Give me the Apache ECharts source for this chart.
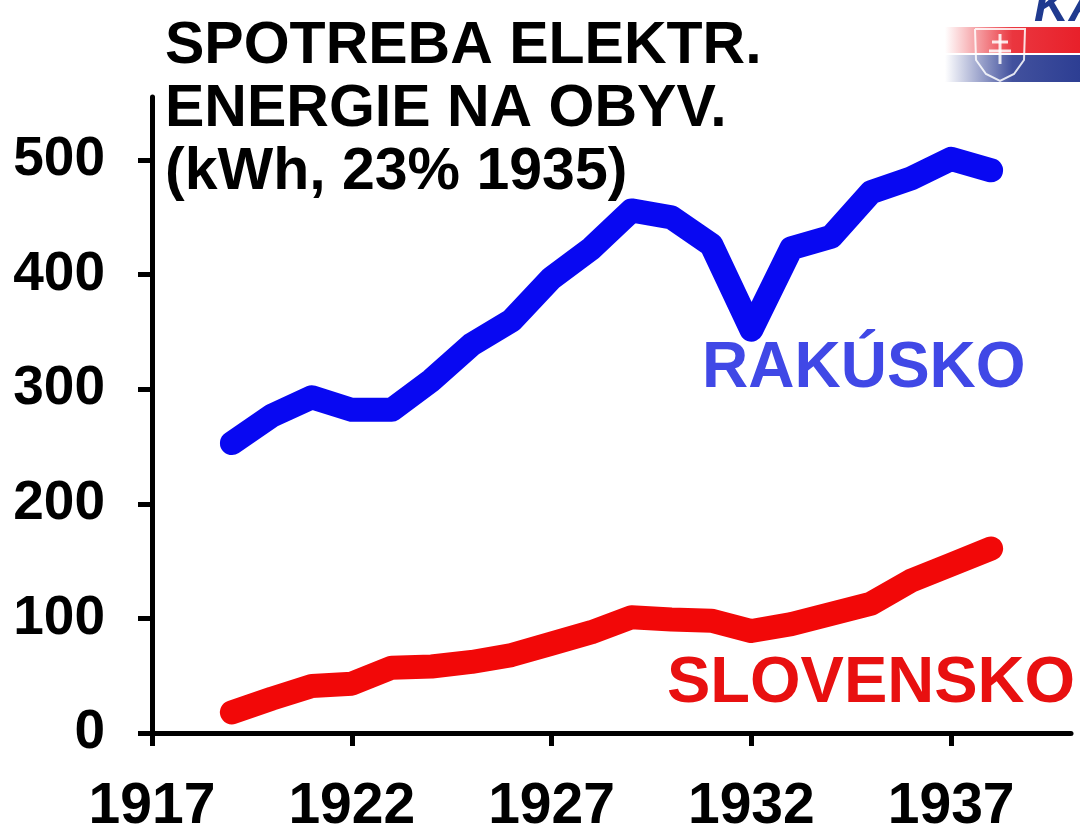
<!DOCTYPE html>
<html>
<head>
<meta charset="utf-8">
<title>Spotreba elektr. energie</title>
<script src="https://cdn.jsdelivr.net/npm/echarts@6/dist/echarts.min.js"></script>
<style>
  html, body { margin: 0; padding: 0; background: #fff; }
  #chart { width: 1080px; height: 833px; }
</style>
</head>
<body>
<div id="chart"></div>
<script>
// roky a hodnoty (kWh na obyvatela), odcitane z grafu
const years = [1919, 1920, 1921, 1922, 1923, 1924, 1925, 1926, 1927, 1928,
               1929, 1930, 1931, 1932, 1933, 1934, 1935, 1936, 1937, 1938]
const rakusko = [253, 277, 293, 282, 282, 308, 339, 360, 397, 423,
                 456, 450, 426, 352, 423, 433, 472, 484, 501, 491]
const slovensko = [18, 30, 41, 43, 57, 58, 62, 68, 78, 88,
                   101, 99, 98, 89, 95, 104, 113, 133, 147, 161]
const xTicks = [1917, 1922, 1927, 1932, 1937]
const yTicks = [0, 100, 200, 300, 400, 500]

const FONT = "'Liberation Sans', Arial, Helvetica, sans-serif"
const chart = echarts.init(document.getElementById('chart'))

const option = {
  backgroundColor: '#fff',
  animation: false,
  title: {
    text: 'SPOTREBA ELEKTR.\nENERGIE NA OBYV.\n(kWh, 23% 1935)',
    left: 160,
    top: 10,
    textStyle: {
      fontFamily: FONT,
      fontWeight: 'bold',
      fontSize: 59,
      lineHeight: 63,
      color: '#000'
    }
  },
  grid: { left: 152, right: 9, top: 97, bottom: 100, outerBoundsMode: 'none' },
  xAxis: {
    type: 'value',
    min: 1917,
    max: 1940,
    splitLine: { show: false },
    axisLine: { lineStyle: { color: '#000', width: 5, cap: 'round' } },
    axisTick: { customValues: xTicks, length: 13, lineStyle: { color: '#000', width: 5 } },
    axisLabel: {
      customValues: xTicks,
      formatter: v => String(v),
      margin: 46,
      fontFamily: FONT,
      fontWeight: 'bold',
      fontSize: 57,
      color: '#000'
    }
  },
  yAxis: {
    type: 'value',
    min: 0,
    max: 555,
    splitLine: { show: false },
    axisLine: { show: true, lineStyle: { color: '#000', width: 5, cap: 'round' } },
    axisTick: { show: true, customValues: yTicks, length: 14, lineStyle: { color: '#000', width: 5 } },
    axisLabel: {
      customValues: yTicks,
      formatter: v => String(v),
      margin: 47,
      fontFamily: FONT,
      fontWeight: 'bold',
      fontSize: 55,
      color: '#000'
    }
  },
  series: [
    {
      name: 'RAKÚSKO',
      type: 'line',
      data: years.map((y, i) => [y, rakusko[i]]),
      showSymbol: false,
      lineStyle: { color: '#0808F2', width: 24, cap: 'round', join: 'round' }
    },
    {
      name: 'SLOVENSKO',
      type: 'line',
      data: years.map((y, i) => [y, slovensko[i]]),
      showSymbol: false,
      lineStyle: { color: '#F20808', width: 24, cap: 'round', join: 'round' }
    }
  ],
  graphic: [
    // popisy radov
    {
      type: 'text', z: 10,
      style: { x: 702, y: 369, text: 'RAKÚSKO', fill: '#4048E6', textVerticalAlign: 'middle',
        font: 'bold 64px ' + FONT }
    },
    {
      type: 'text', z: 10,
      style: { x: 667, y: 684, text: 'SLOVENSKO', fill: '#E81010', textVerticalAlign: 'middle',
        font: 'bold 65px ' + FONT }
    },
    // logo vpravo hore
    {
      type: 'rect', shape: { x: 945, y: 27, width: 135, height: 26 },
      style: { fill: new echarts.graphic.LinearGradient(0, 0, 1, 0, [
        { offset: 0, color: 'rgba(232,32,42,0)' },
        { offset: 0.5, color: 'rgba(232,32,42,0.9)' },
        { offset: 1, color: '#E8202A' }
      ]) }
    },
    {
      type: 'rect', shape: { x: 945, y: 55, width: 135, height: 27 },
      style: { fill: new echarts.graphic.LinearGradient(0, 0, 1, 0, [
        { offset: 0, color: 'rgba(45,62,147,0)' },
        { offset: 0.5, color: 'rgba(45,62,147,0.9)' },
        { offset: 1, color: '#2D3E93' }
      ]) }
    },
    {
      type: 'polyline',
      shape: { points: [[975, 29], [1025, 29], [1024, 60], [1014, 74], [1000, 81], [986, 74], [976, 60], [975, 29]] },
      style: { stroke: 'rgba(255,255,255,0.85)', lineWidth: 2, fill: 'none' }
    },
    {
      type: 'polyline',
      shape: { points: [[1000, 34], [1000, 64]] },
      style: { stroke: 'rgba(255,255,255,0.85)', lineWidth: 3 }
    },
    {
      type: 'polyline',
      shape: { points: [[992, 42], [1008, 42]] },
      style: { stroke: 'rgba(255,255,255,0.85)', lineWidth: 3 }
    },
    {
      type: 'polyline',
      shape: { points: [[989, 51], [1011, 51]] },
      style: { stroke: 'rgba(255,255,255,0.85)', lineWidth: 3 }
    },
    {
      type: 'text',
      style: { x: 1034, y: -16, text: 'KA', fill: '#1F3A8F',
        font: 'italic bold 48px ' + FONT }
    }
  ]
}

chart.setOption(option)
</script>
</body>
</html>
